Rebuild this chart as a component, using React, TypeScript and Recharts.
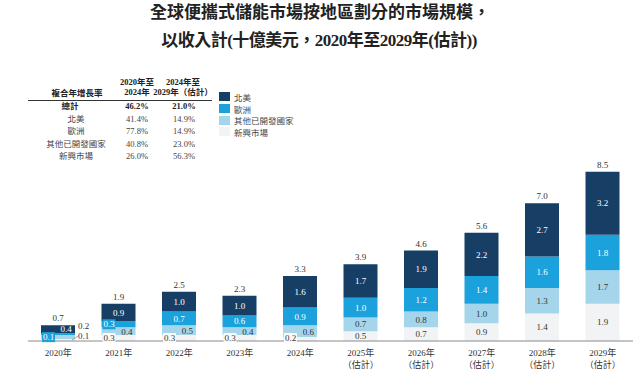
import React from 'react';
import { BarChart, Bar, XAxis, YAxis, LabelList } from 'recharts';

const years = ['2020年', '2021年', '2022年', '2023年', '2024年', '2025年', '2026年', '2027年', '2028年', '2029年'];
const yearNotes = ['', '', '', '', '', '（估計）', '（估計）', '（估計）', '（估計）', '（估計）'];
const northAmerica = [0.4, 0.9, 1.0, 1.0, 1.6, 1.7, 1.9, 2.2, 2.7, 3.2];
const europe = [0.1, 0.3, 0.7, 0.6, 0.9, 1.0, 1.2, 1.4, 1.6, 1.8];
const otherDeveloped = [0.2, 0.4, 0.5, 0.4, 0.6, 0.7, 0.8, 1.0, 1.3, 1.7];
const emerging = [0.1, 0.3, 0.3, 0.3, 0.2, 0.5, 0.7, 0.9, 1.4, 1.9];
const totals = ['0.7', '1.9', '2.5', '2.3', '3.3', '3.9', '4.6', '5.6', '7.0', '8.5'];

const seriesNames = ['北美', '歐洲', '其他已開發國家', '新興市場'];
const seriesColors = ['#173f66', '#1ba1dc', '#a5d5eb', '#f2f3f5'];

const cagrRegions = ['總計', '北美', '歐洲', '其他已開發國家', '新興市場'];
const cagr2020to2024 = ['46.2%', '41.4%', '77.8%', '40.8%', '26.0%'];
const cagr2024to2029 = ['21.0%', '14.9%', '14.9%', '23.0%', '56.3%'];

const data = years.map((y, i) => ({
  year: y,
  note: yearNotes[i],
  na: northAmerica[i],
  eu: europe[i],
  other: otherDeveloped[i],
  emerging: emerging[i],
  total: totals[i],
}));

const SERIF = '"Liberation Serif", "Times New Roman", "Noto Sans CJK TC", serif';
const FS = 9;

const fmt = (v: any) => Number(v).toFixed(1);

const NaLabel = (p: any) => {
  const { x, y, width, height, value, index } = p;
  const h = Math.abs(height);
  const cx = x + width / 2 + (index === 0 ? 8 : 0);
  return (
    <text x={cx} y={y + h / 2} dy="0.35em" textAnchor="middle" fill="#fff" fontSize={FS} fontFamily={SERIF}>
      {fmt(value)}
    </text>
  );
};

const TotalLabel = (p: any) => {
  const { x, y, width, index } = p;
  return (
    <text x={x + width / 2} y={y - 4} textAnchor="middle" fill="#333" fontSize={FS} fontFamily={SERIF}>
      {totals[index]}
    </text>
  );
};

const EuLabel = (p: any) => {
  const { x, y, width, height, value, index } = p;
  const h = Math.abs(height);
  if (index <= 1) {
    const cy = y + h / 2 + (index === 0 ? 3 : 0);
    return (
      <g>
        <rect x={x + 1} y={cy - 5} width={13} height={10} fill={seriesColors[1]} />
        <text x={x + 7.5} y={cy} dy="0.35em" textAnchor="middle" fill="#fff" fontSize={FS} fontFamily={SERIF}>
          {fmt(value)}
        </text>
      </g>
    );
  }
  return (
    <text x={x + width / 2} y={y + h / 2} dy="0.35em" textAnchor="middle" fill="#fff" fontSize={FS} fontFamily={SERIF}>
      {fmt(value)}
    </text>
  );
};

const OtherLabel = (p: any) => {
  const { x, y, width, height, value, index } = p;
  const h = Math.abs(height);
  if (index === 0) {
    return (
      <text x={x + width + 3} y={y + h / 2 - 11} dy="0.35em" textAnchor="start" fill="#333" fontSize={FS} fontFamily={SERIF}>
        {fmt(value)}
      </text>
    );
  }
  if (index < 5) {
    return (
      <text x={x + width - 3} y={y + h / 2 + 1} dy="0.35em" textAnchor="end" fill="#333" fontSize={FS} fontFamily={SERIF}>
        {fmt(value)}
      </text>
    );
  }
  return (
    <text x={x + width / 2} y={y + h / 2} dy="0.35em" textAnchor="middle" fill="#333" fontSize={FS} fontFamily={SERIF}>
      {fmt(value)}
    </text>
  );
};

const EmergingLabel = (p: any) => {
  const { x, y, width, height, value, index } = p;
  const h = Math.abs(height);
  const base = y + h;
  if (index === 0) {
    return (
      <g>
        <line x1={x + width - 3} y1={base - 1} x2={x + width + 3} y2={base - 5} stroke="#666" strokeWidth={0.6} />
        <text x={x + width + 3} y={base - 5} dy="0.35em" textAnchor="start" fill="#333" fontSize={FS} fontFamily={SERIF}>
          {fmt(value)}
        </text>
      </g>
    );
  }
  if (index < 5) {
    const cy = base - 3;
    return (
      <g>
        <rect x={x + 1} y={cy - 5} width={13} height={10} fill="#fafafa" />
        <text x={x + 7.5} y={cy} dy="0.35em" textAnchor="middle" fill="#333" fontSize={FS} fontFamily={SERIF}>
          {fmt(value)}
        </text>
      </g>
    );
  }
  return (
    <text x={x + width / 2} y={y + h / 2} dy="0.35em" textAnchor="middle" fill="#333" fontSize={FS} fontFamily={SERIF}>
      {fmt(value)}
    </text>
  );
};

const YearTick = (p: any) => {
  const { x, y, payload, index } = p;
  const note = yearNotes[index] ?? '';
  return (
    <g>
      <text x={x} y={y + 7} textAnchor="middle" fill="#333" fontSize={FS} fontFamily={SERIF}>
        {payload.value}
      </text>
      {note ? (
        <text x={x} y={y + 19} textAnchor="middle" fill="#333" fontSize={FS} fontFamily={SERIF}>
          {note}
        </text>
      ) : null}
    </g>
  );
};

const T = ({ x, y, children, style }: any) => (
  <div
    style={{
      position: 'absolute',
      left: x,
      top: y,
      transform: 'translate(-50%, -50%)',
      whiteSpace: 'nowrap',
      fontFamily: SERIF,
      fontSize: 8.5,
      color: '#444',
      lineHeight: 1.15,
      textAlign: 'center',
      ...style,
    }}
  >
    {children}
  </div>
);

export default function App() {
  return (
    <div style={{ position: 'absolute', left: 0, top: 0, width: 639, height: 369, background: '#fff', overflow: 'hidden' }}>
      <T x={320} y={13} style={{ fontSize: 17, fontWeight: 'bold', color: '#222' }}>
        全球便攜式儲能市場按地區劃分的市場規模，
      </T>
      <T x={319} y={41} style={{ fontSize: 17, fontWeight: 'bold', color: '#222', letterSpacing: -0.5 }}>
        以收入計(十億美元，2020年至2029年(估計))
      </T>

      <T x={77} y={94} style={{ fontWeight: 'bold', color: '#222' }}>複合年增長率</T>
      <T x={137} y={88} style={{ fontWeight: 'bold', color: '#222' }}>
        2020年至
        <br />
        2024年
      </T>
      <T x={183} y={88} style={{ fontWeight: 'bold', color: '#222' }}>
        2024年至
        <br />
        2029年（估計）
      </T>
      <div style={{ position: 'absolute', left: 28, top: 100, width: 184, height: 1, background: '#333' }} />
      {cagrRegions.map((r, i) => (
        <React.Fragment key={r}>
          <T x={i === 0 ? 70 : 76} y={107 + i * 12.5} style={i === 0 ? { fontWeight: 'bold', color: '#222' } : {}}>
            {r}
          </T>
          <T x={137} y={107 + i * 12.5} style={i === 0 ? { fontWeight: 'bold', color: '#222' } : {}}>
            {cagr2020to2024[i]}
          </T>
          <T x={184} y={107 + i * 12.5} style={i === 0 ? { fontWeight: 'bold', color: '#222' } : {}}>
            {cagr2024to2029[i]}
          </T>
        </React.Fragment>
      ))}

      <div style={{ position: 'absolute', left: 219, top: 91, fontFamily: SERIF, fontSize: 8.5, color: '#444' }}>
        {seriesNames.map((n, i) => (
          <div key={n} style={{ display: 'flex', alignItems: 'center', height: 11.7 }}>
            <span style={{ display: 'inline-block', width: 11, height: 9, background: seriesColors[i], marginRight: 4 }} />
            <span>{n}</span>
          </div>
        ))}
      </div>

      <div style={{ position: 'absolute', left: 0, top: 0 }}>
        <BarChart width={639} height={369} data={data} margin={{ top: 164, right: 6, bottom: 0, left: 28 }}>
          <YAxis hide domain={[0, 9]} />
          <XAxis
            dataKey="year"
            axisLine={{ stroke: '#8a8a8a', strokeWidth: 1 }}
            tickLine={false}
            tick={<YearTick />}
            interval={0}
            height={28}
          />
          <Bar dataKey="emerging" stackId="a" fill={seriesColors[3]} barSize={34} isAnimationActive={false} name={seriesNames[3]}>
            <LabelList dataKey="emerging" content={<EmergingLabel />} />
          </Bar>
          <Bar dataKey="other" stackId="a" fill={seriesColors[2]} barSize={34} isAnimationActive={false} name={seriesNames[2]}>
            <LabelList dataKey="other" content={<OtherLabel />} />
          </Bar>
          <Bar dataKey="eu" stackId="a" fill={seriesColors[1]} barSize={34} isAnimationActive={false} name={seriesNames[1]}>
            <LabelList dataKey="eu" content={<EuLabel />} />
          </Bar>
          <Bar dataKey="na" stackId="a" fill={seriesColors[0]} barSize={34} isAnimationActive={false} name={seriesNames[0]}>
            <LabelList dataKey="na" content={<NaLabel />} />
            <LabelList dataKey="total" content={<TotalLabel />} />
          </Bar>
        </BarChart>
      </div>
    </div>
  );
}
